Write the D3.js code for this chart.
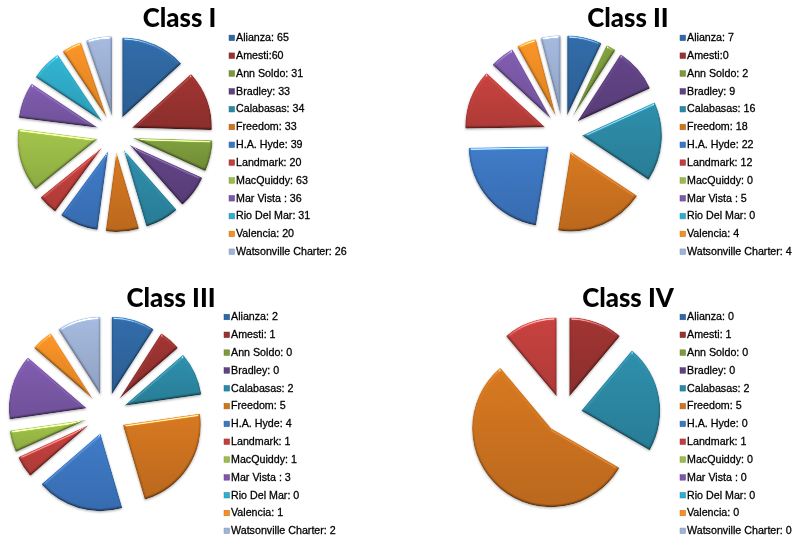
<!DOCTYPE html>
<html><head><meta charset="utf-8">
<script src="https://cdnjs.cloudflare.com/ajax/libs/d3/7.8.5/d3.min.js"></script>
<style>html,body{margin:0;padding:0;background:#fff}svg{display:block}</style>
</head><body><svg id="c" width="799" height="544"></svg>
<script>
const categories = ["Alianza","Amesti","Ann Soldo","Bradley","Calabasas","Freedom","H.A. Hyde","Landmark","MacQuiddy","Mar Vista ","Rio Del Mar","Valencia","Watsonville Charter"];
const colors = ["#2f68a3","#9a3230","#7b9a3a","#604283","#2b8aa6","#d0741f","#3c77c2","#c13f3c","#9cbd48","#7c59a9","#2fadcb","#f28f25","#9fb3d8"];
const classI   = [65,60,31,33,34,33,39,20,63,36,31,20,26];
const classII  = [7,0,2,9,16,18,22,12,0,5,0,4,4];
const classIII = [2,1,0,0,2,5,4,1,1,3,0,1,2];
const classIV  = [0,1,0,0,2,5,0,1,0,0,0,0,0];
const titles = ["Class I","Class II","Class III","Class IV"];
const seriesList = [classI,classII,classIII,classIV];
// Amesti label is written without a space in the two upper panels
const tightAmesti = [true,true,false,false];

const layout = [
  {cx:115,cy:134,r:80,d:18,tx:179.5,ty:27,lx:229,ly:37.7},
  {cx:563,cy:134,r:80,d:19,tx:628,ty:27,lx:680,ly:37.7},
  {cx:106,cy:414,r:78,d:20,tx:171,ty:307,lx:224,ly:316.8},
  {cx:563,cy:414,r:79,d:18.5,tx:628,ty:307,lx:680,ly:316.8}
];
const rowStep = 17.82;

const svg = d3.select("#c");
const defs = svg.append("defs");

colors.forEach((c,i)=>{
  const lg = defs.append("linearGradient").attr("id","fill"+i).attr("x1",0).attr("y1",0).attr("x2",0).attr("y2",1);
  lg.append("stop").attr("offset",0).attr("stop-color",d3.color(c).brighter(.12));
  lg.append("stop").attr("offset",1).attr("stop-color",d3.color(c).darker(.3));
});

const bevel = defs.append("filter").attr("id","bevel")
  .attr("x","-10%").attr("y","-10%").attr("width","120%").attr("height","125%")
  .attr("color-interpolation-filters","sRGB");
bevel.append("feGaussianBlur").attr("in","SourceAlpha").attr("stdDeviation",1.1).attr("result","b");
const dl = bevel.append("feDiffuseLighting").attr("in","b").attr("surfaceScale",1.1)
  .attr("diffuseConstant",1.17).attr("lighting-color","#fff").attr("result","light");
dl.append("feDistantLight").attr("azimuth",265).attr("elevation",58);
bevel.append("feComposite").attr("in","SourceGraphic").attr("in2","light")
  .attr("operator","arithmetic").attr("k1",1).attr("k2",0).attr("k3",0).attr("k4",0).attr("result","lit");
const sl = bevel.append("feSpecularLighting").attr("in","b").attr("surfaceScale",1.6)
  .attr("specularConstant",.55).attr("specularExponent",40).attr("lighting-color","#fff").attr("result","spec");
sl.append("feDistantLight").attr("azimuth",265).attr("elevation",35);
bevel.append("feComposite").attr("in","spec").attr("in2","SourceAlpha").attr("operator","in").attr("result","specIn");
bevel.append("feComposite").attr("in","lit").attr("in2","specIn")
  .attr("operator","arithmetic").attr("k1",0).attr("k2",1).attr("k3",1).attr("k4",0).attr("result","face");
bevel.append("feComposite").attr("in","face").attr("in2","SourceAlpha").attr("operator","in").attr("result","clipped");
bevel.append("feOffset").attr("in","SourceAlpha").attr("dx",0).attr("dy",1).attr("result","o");
bevel.append("feGaussianBlur").attr("in","o").attr("stdDeviation",.8).attr("result","ob");
bevel.append("feFlood").attr("flood-color","#000").attr("flood-opacity",.3);
bevel.append("feComposite").attr("in2","ob").attr("operator","in").attr("result","shadow");
const mg = bevel.append("feMerge");
mg.append("feMergeNode").attr("in","shadow");
mg.append("feMergeNode").attr("in","clipped");

const soft = defs.append("filter").attr("id","soft").attr("x","-5%").attr("y","-20%").attr("width","110%").attr("height","140%");
soft.append("feGaussianBlur").attr("stdDeviation",.42);

const pie = d3.pie().sort(null).value(d=>d);

seriesList.forEach((values,pi)=>{
  const L = layout[pi];
  const g = svg.append("g");
  const arc = d3.arc().innerRadius(0).outerRadius(L.r).cornerRadius(1);
  const centroidDir = d=>{const a=(d.startAngle+d.endAngle)/2;return [Math.sin(a)*L.d,-Math.cos(a)*L.d];};
  g.selectAll("path").data(pie(values).filter(d=>d.value>0)).join("path")
    .attr("d",arc)
    .attr("fill",d=>`url(#fill${d.index})`)
    .attr("filter","url(#bevel)")
    .attr("transform",d=>{const o=centroidDir(d);return `translate(${L.cx+o[0]},${L.cy+o[1]})`;});

  svg.append("text").text(titles[pi])
    .attr("x",L.tx).attr("y",L.ty).attr("text-anchor","middle")
    .attr("font-family","Lato").attr("font-weight",900).attr("font-size",25.8).attr("fill","#000")
    .attr("filter","url(#soft)");

  const rows = svg.append("g").selectAll("g").data(categories).join("g")
    .attr("transform",(d,i)=>`translate(${L.lx},${L.ly+i*rowStep})`);
  rows.append("rect").attr("x",0).attr("y",-2.6).attr("width",5.6).attr("height",5.6)
    .attr("fill",(d,i)=>colors[i]).attr("stroke",(d,i)=>d3.color(colors[i]).darker(.5)).attr("stroke-width",.5);
  rows.append("text")
    .text((d,i)=>d+((d==="Amesti"&&tightAmesti[pi])?":":": ")+values[i])
    .attr("x",7).attr("y",3.5)
    .attr("xml:space","preserve").style("white-space","pre")
    .attr("font-family","Liberation Sans").attr("font-size",10.7).attr("fill","#000")
    .attr("stroke","#000").attr("stroke-width",.28)
    .attr("filter","url(#soft)");
});
</script></body></html>
